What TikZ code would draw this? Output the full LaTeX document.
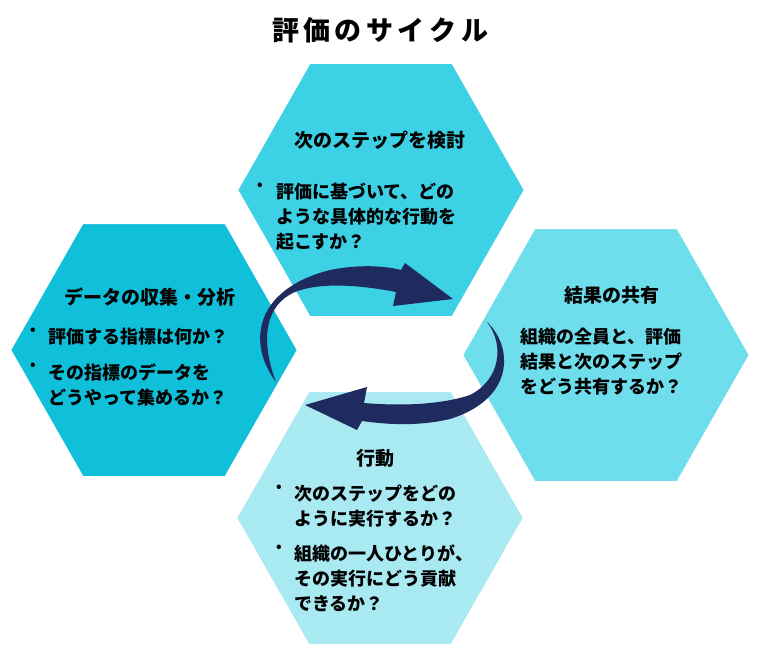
\documentclass[tikz,border=0pt]{standalone}
\usepackage{fontspec}
\setmainfont{Noto Sans CJK JP}
\definecolor{htop}{HTML}{3DD1E6}
\definecolor{hleft}{HTML}{10BFDA}
\definecolor{hright}{HTML}{6EDDEC}
\definecolor{hbot}{HTML}{A8E9F2}
\definecolor{arr}{HTML}{1F2A5E}
\newcommand{\hexpath}[3]{\fill[#3,draw=white,line width=4pt,line join=miter] (#1-145,#2) -- (#1-72,#2-128) -- (#1+72,#2-128) -- (#1+145,#2) -- (#1+72,#2+128) -- (#1-72,#2+128) -- cycle;}
\begin{document}
\begin{tikzpicture}[x=1pt,y=-1pt,
  head/.style={font=\bfseries\fontsize{19}{22}\selectfont,inner sep=0},
  body/.style={font=\bfseries\fontsize{18}{25}\selectfont,inner sep=0,align=left,anchor=north west},
  bul/.style={font=\bfseries\fontsize{14}{25}\selectfont,inner sep=0,anchor=north}]
\useasboundingbox (0,0) rectangle (762,655);
\node[font=\bfseries\fontsize{27}{30}\selectfont] (title) at (380,30) {評\,価\,の\,サ\,イ\,ク\,ル};
\hexpath{381}{190}{htop}
\hexpath{154}{350}{hleft}
\hexpath{606}{355}{hright}
\hexpath{380}{518}{hbot}
% top
\node[head] (th) at (380,140) {次のステップを検討};
\node[bul] (tb) at (260,183) {•};
\node[body] (tt) at (276,183) {評価に基づいて、どの\\ような具体的な行動を\\起こすか？};
% left
\node[head] (lh) at (150,297) {データの収集・分析};
\node[bul] (lb1) at (33,328) {•};
\node[bul] (lb2) at (33,363) {•};
\node[body] (lt1) at (48,328) {評価する指標は何か？};
\node[body] (lt2) at (48,363) {その指標のデータを\\どうやって集めるか？};
% right
\node[head] (rh) at (612,295) {結果の共有};
\node[body] (rt) at (520,328) {組織の全員と、評価\\結果と次のステップ\\をどう共有するか？};
% bottom
\node[head] (bh) at (375,458) {行動};
\node[bul] (bb1) at (279,485) {•};
\node[bul] (bb2) at (279,545) {•};
\node[body] (bt1) at (294,485) {次のステップをどの\\ように実行するか？};
\node[body] (bt2) at (294,545) {組織の一人ひとりが、\\その実行にどう貢献\\できるか？};
% arrows
\fill[arr] (276,382) .. controls (248,345) and (252,290) .. (330,270)
  .. controls (360,264) and (385,266) .. (401,270) -- (405,263) -- (453,299) -- (393,306) -- (396,292)
  .. controls (360,285) and (320,282) .. (295,292) .. controls (265,305) and (260,340) .. (276,382) -- cycle;
\fill[arr] (487,322) .. controls (512,345) and (517,398) .. (450,419)
  .. controls (420,426) and (390,425) .. (362,421) -- (357,430) -- (305,405) -- (367,387) -- (364,403)
  .. controls (400,406) and (440,405) .. (470,395) .. controls (500,380) and (505,345) .. (487,322) -- cycle;
\end{tikzpicture}
\end{document}
